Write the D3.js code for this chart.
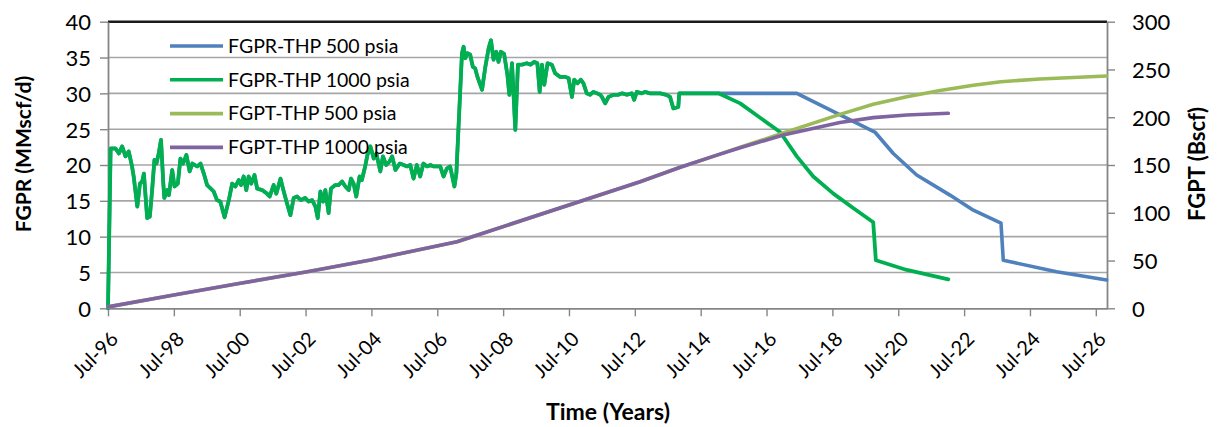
<!DOCTYPE html>
<html>
<head>
<meta charset="utf-8">
<script src="https://cdn.jsdelivr.net/npm/d3@7"></script>
<style>
  html, body { margin: 0; padding: 0; background: #fff; }
  svg { display: block; }
  text { font-family: Lato, "Open Sans", sans-serif; fill: #000; }
</style>
</head>
<body>
<svg id="chart" width="1227" height="427"></svg>
<script>
// Gas rate history (MMscf/d), shared by both THP cases: [decimal year, rate]
const rateHistory = [
  [1996.50, 0], [1996.58, 22.3], [1996.73, 22.3], [1996.83, 21.6], [1996.93, 22.6], [1997.03, 21.2],
  [1997.13, 21.9], [1997.23, 19.8], [1997.28, 18.4], [1997.39, 14.2], [1997.47, 17.4], [1997.54, 17.7],
  [1997.59, 18.8], [1997.69, 12.6], [1997.77, 12.8], [1997.84, 16.5], [1997.91, 20.7], [1997.97, 20.2],
  [1998.04, 21.6], [1998.11, 23.5], [1998.18, 17.4], [1998.21, 15.4], [1998.30, 16.5], [1998.35, 15.8],
  [1998.45, 19.3], [1998.52, 17.0], [1998.62, 17.4], [1998.70, 20.9], [1998.78, 20.2], [1998.88, 21.4],
  [1998.98, 19.1], [1999.06, 20.2], [1999.21, 19.8], [1999.31, 20.2], [1999.41, 18.8], [1999.51, 17.2],
  [1999.71, 16.3], [1999.81, 15.1], [1999.91, 14.9], [2000.04, 12.7], [2000.17, 15.1], [2000.27, 17.4],
  [2000.37, 17.0], [2000.47, 17.9], [2000.54, 17.2], [2000.62, 18.4], [2000.70, 16.5], [2000.77, 18.4],
  [2000.85, 17.4], [2000.95, 18.6], [2001.03, 16.7], [2001.18, 16.5], [2001.33, 16.0], [2001.41, 15.6],
  [2001.53, 17.2], [2001.61, 16.0], [2001.74, 18.1], [2001.82, 16.6], [2001.92, 14.9], [2002.04, 13.0],
  [2002.14, 15.4], [2002.24, 15.6], [2002.36, 15.1], [2002.49, 15.4], [2002.59, 14.9], [2002.70, 15.1],
  [2002.80, 14.2], [2002.87, 12.6], [2002.95, 16.3], [2003.03, 14.9], [2003.10, 16.5], [2003.20, 13.3],
  [2003.27, 16.7], [2003.40, 17.2], [2003.50, 17.2], [2003.61, 17.7], [2003.71, 17.0], [2003.81, 16.5],
  [2003.88, 18.1], [2003.96, 17.4], [2004.04, 15.6], [2004.14, 18.4], [2004.21, 17.9], [2004.31, 19.8],
  [2004.38, 21.4], [2004.47, 22.6], [2004.57, 20.9], [2004.65, 21.6], [2004.77, 19.1], [2004.85, 21.2],
  [2004.95, 20.0], [2005.05, 20.5], [2005.13, 21.2], [2005.23, 19.3], [2005.36, 20.2], [2005.48, 20.0],
  [2005.58, 19.8], [2005.68, 20.0], [2005.78, 18.1], [2005.88, 20.0], [2005.98, 18.4], [2006.08, 20.2],
  [2006.19, 19.8], [2006.29, 20.0], [2006.39, 19.8], [2006.59, 19.8], [2006.69, 18.4], [2006.79, 19.5],
  [2006.89, 19.8], [2007.02, 17.0], [2007.08, 18.8], [2007.25, 35.6], [2007.30, 36.5], [2007.35, 34.9],
  [2007.42, 35.6], [2007.50, 35.4], [2007.58, 33.7], [2007.65, 33.5], [2007.72, 32.3], [2007.86, 30.5],
  [2007.96, 33.7], [2008.06, 36.3], [2008.13, 37.4], [2008.21, 34.7], [2008.29, 35.8], [2008.36, 34.4],
  [2008.43, 35.8], [2008.53, 35.5], [2008.63, 32.6], [2008.69, 29.8], [2008.77, 34.2], [2008.87, 24.9],
  [2008.95, 34.0], [2009.07, 34.0], [2009.22, 34.2], [2009.34, 34.0], [2009.44, 34.4], [2009.54, 34.2],
  [2009.61, 30.2], [2009.68, 34.0], [2009.75, 31.2], [2009.85, 34.2], [2009.98, 34.0], [2010.08, 32.8],
  [2010.23, 32.3], [2010.39, 32.3], [2010.49, 32.1], [2010.59, 29.5], [2010.66, 31.9], [2010.76, 31.4],
  [2010.86, 31.9], [2010.94, 31.4], [2011.04, 30.0], [2011.14, 29.8], [2011.24, 30.2], [2011.35, 30.0],
  [2011.45, 29.8], [2011.50, 29.5], [2011.60, 28.6], [2011.70, 29.5], [2011.85, 29.8], [2012.00, 29.8],
  [2012.11, 30.0], [2012.26, 29.8], [2012.41, 30.0], [2012.48, 29.1], [2012.56, 30.2], [2012.71, 30.0],
  [2012.81, 30.2], [2012.96, 30.0], [2013.27, 30.0], [2013.45, 29.8], [2013.57, 29.5], [2013.67, 27.9],
  [2013.82, 28.1], [2013.85, 30.0], [2015.04, 30.0]
];

// Rate forecasts (MMscf/d) after the shared plateau
const rateForecast500 = [
  [2017.42, 30.0], [2019.79, 24.6], [2020.35, 21.6], [2021.06, 18.6], [2022.07, 15.8],
  [2022.78, 13.7], [2023.62, 11.9], [2023.69, 6.7], [2025.31, 5.1], [2026.83, 3.95]
];
const rateForecast1000 = [
  [2015.70, 28.6], [2016.91, 24.6], [2017.42, 21.2], [2017.92, 18.4], [2018.53, 16.0],
  [2019.13, 14.0], [2019.74, 12.0], [2019.82, 6.7], [2020.76, 5.35], [2022.02, 4.05]
];

// Cumulative gas production (Bscf), shared history then per-case forecast
const cumHistory = [
  [1996.50, 1.5], [1998.50, 13.9], [2000.52, 26.2], [2002.55, 38.3], [2004.47, 50.6],
  [2007.10, 69.7], [2012.66, 132.5], [2013.88, 147.6], [2015.04, 160.9]
];
const cumForecast500 = [
  [2015.70, 168.5], [2017.01, 183.5], [2018.73, 203.0], [2019.74, 213.6], [2020.76, 221.5],
  [2021.77, 228.0], [2022.78, 233.5], [2023.62, 237.2], [2024.80, 240.0], [2026.83, 243.2]
];
const cumForecast1000 = [
  [2015.70, 168.0], [2017.01, 181.5], [2018.73, 194.5], [2019.74, 199.6], [2020.76, 202.3],
  [2022.02, 204.1]
];

const seriesNames = ["FGPR-THP 500 psia", "FGPR-THP 1000 psia", "FGPT-THP 500 psia", "FGPT-THP 1000 psia"];
const seriesColors = ["#4F81BD", "#00B050", "#9BBB59", "#8064A2"];

const xTickYears = [1996.5, 1998.5, 2000.5, 2002.5, 2004.5, 2006.5, 2008.5, 2010.5, 2012.5, 2014.5,
                    2016.5, 2018.5, 2020.5, 2022.5, 2024.5, 2026.5];
const xTickLabels = ["Jul-96", "Jul-98", "Jul-00", "Jul-02", "Jul-04", "Jul-06", "Jul-08", "Jul-10",
                     "Jul-12", "Jul-14", "Jul-16", "Jul-18", "Jul-20", "Jul-22", "Jul-24", "Jul-26"];
const leftTicks = [0, 5, 10, 15, 20, 25, 30, 35, 40];
const rightTicks = [0, 50, 100, 150, 200, 250, 300];

const svg = d3.select("#chart");
const plot = { left: 108, right: 1107, top: 21.7, bottom: 308.3 };

const x = d3.scaleLinear().domain([1996.5, 2026.84]).range([plot.left, plot.right]);
const yL = d3.scaleLinear().domain([0, 40]).range([plot.bottom, plot.top]);
const yR = d3.scaleLinear().domain([0, 300]).range([plot.bottom, plot.top]);

// horizontal gridlines
svg.append("g")
  .selectAll("line")
  .data(leftTicks.slice(1, -1))
  .join("line")
  .attr("x1", plot.left).attr("x2", plot.right)
  .attr("y1", d => yL(d)).attr("y2", d => yL(d))
  .attr("stroke", "#a6a6a6").attr("stroke-width", 1.6);

// top border of the plot area
svg.append("line")
  .attr("x1", plot.left).attr("x2", plot.right)
  .attr("y1", plot.top).attr("y2", plot.top)
  .attr("stroke", "#1a1a1a").attr("stroke-width", 2.5);

// axes
const axisColor = "#868686";
function styleAxis(g) {
  g.select(".domain").attr("stroke", axisColor).attr("stroke-width", 1.8);
  g.selectAll(".tick line").attr("stroke", axisColor).attr("stroke-width", 1.4);
}

const gLeft = svg.append("g")
  .attr("transform", `translate(${plot.left},0)`)
  .call(d3.axisLeft(yL).tickValues(leftTicks).tickSize(8).tickSizeOuter(0).tickPadding(9));
styleAxis(gLeft);
gLeft.selectAll(".tick text").attr("font-size", 22).attr("fill", "#000").attr("dy", "0.36em")
  .style("font-family", "Lato, sans-serif");

const gRight = svg.append("g")
  .attr("transform", `translate(${plot.right},0)`)
  .call(d3.axisRight(yR).tickValues(rightTicks).tickSize(8).tickSizeOuter(0).tickPadding(17));
styleAxis(gRight);
gRight.selectAll(".tick text").attr("font-size", 22).attr("fill", "#000").attr("dy", "0.36em")
  .style("font-family", "Lato, sans-serif");

const gBottom = svg.append("g")
  .attr("transform", `translate(0,${plot.bottom})`)
  .call(d3.axisBottom(x).tickValues(xTickYears).tickFormat((d, i) => xTickLabels[i])
    .tickSize(8).tickSizeOuter(0));
styleAxis(gBottom);
gBottom.selectAll(".tick text")
  .attr("font-size", 20).attr("fill", "#000")
  .style("font-family", "Lato, sans-serif")
  .attr("text-anchor", "end")
  .attr("x", 0).attr("y", 0).attr("dy", 0)
  .attr("transform", "translate(11,32) rotate(-45)");

// series lines
const lineL = d3.line().x(d => x(d[0])).y(d => yL(d[1]));
const lineR = d3.line().x(d => x(d[0])).y(d => yR(d[1]));

const rate500 = rateHistory.concat(rateForecast500);
const rate1000 = rateHistory.concat(rateForecast1000);
const cum500 = cumHistory.concat(cumForecast500);
const cum1000 = cumHistory.concat(cumForecast1000);

const seriesDefs = [
  { data: rate500, gen: lineL, width: 3.6 },
  { data: rate1000, gen: lineL, width: 3.8 },
  { data: cum500, gen: lineR, width: 3.6 },
  { data: cum1000, gen: lineR, width: 3.6 }
];

svg.append("g")
  .selectAll("path")
  .data(seriesDefs)
  .join("path")
  .attr("d", d => d.gen(d.data))
  .attr("fill", "none")
  .attr("stroke", (d, i) => seriesColors[i])
  .attr("stroke-width", d => d.width)
  .attr("stroke-linejoin", "round")
  .attr("stroke-linecap", "round");

// legend
const legend = svg.append("g").attr("transform", "translate(170,46)");
const rows = legend.selectAll("g").data(seriesNames).join("g")
  .attr("transform", (d, i) => `translate(0,${i * 33.8})`);
rows.append("line")
  .attr("x1", 0).attr("x2", 53).attr("y1", 0).attr("y2", 0)
  .attr("stroke", (d, i) => seriesColors[i]).attr("stroke-width", 3.6);
rows.append("text")
  .attr("x", 58).attr("y", 0).attr("dy", "0.35em")
  .attr("font-size", 19.5)
  .text(d => d);

// axis titles
svg.append("text")
  .attr("transform", "translate(31,154) rotate(-90)")
  .attr("text-anchor", "middle")
  .attr("font-size", 21).attr("font-weight", "bold")
  .text("FGPR (MMscf/d)");

svg.append("text")
  .attr("transform", "translate(1205,164) rotate(-90)")
  .attr("text-anchor", "middle")
  .attr("font-size", 22).attr("font-weight", "bold")
  .text("FGPT (Bscf)");

svg.append("text")
  .attr("x", 608).attr("y", 420)
  .attr("text-anchor", "middle")
  .attr("font-size", 23).attr("font-weight", "bold")
  .text("Time (Years)");
</script>
</body>
</html>
